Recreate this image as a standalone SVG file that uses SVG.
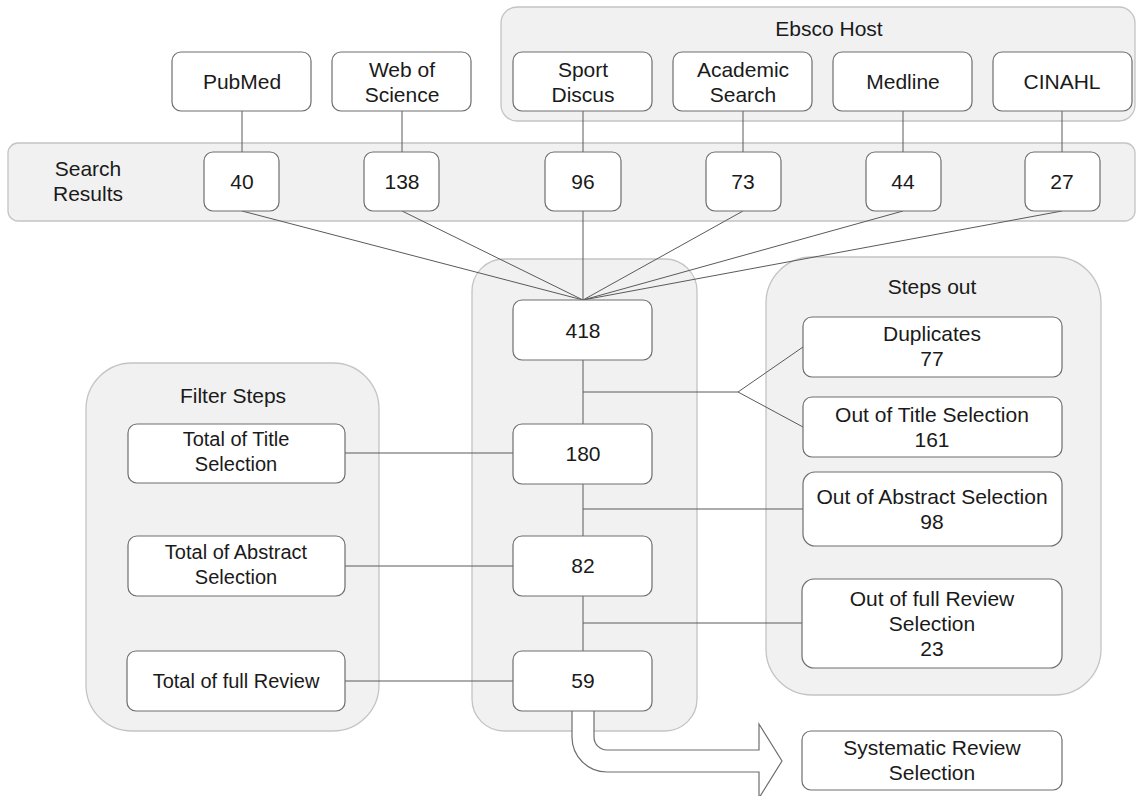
<svg xmlns="http://www.w3.org/2000/svg" width="1137" height="796" viewBox="0 0 1137 796">
<style>
.cont{fill:#f1f1f1;stroke:#c4c4c4;stroke-width:1.3}
.box{fill:#ffffff;stroke:#6e6e6e;stroke-width:1.2}
.ln{fill:none;stroke:#5a5a5a;stroke-width:1}
text{font-family:"Liberation Sans",Arial,sans-serif;font-size:21px;fill:#1a1a1a;text-anchor:middle}
.s20{font-size:20px}
</style>
<rect x="0" y="0" width="1137" height="796" fill="#ffffff"/>
<g id="ebsco-host">
<rect class="cont" x="501" y="7" width="634" height="114" rx="16"/>
<text x="829" y="36">Ebsco Host</text>
</g>
<g id="search-results">
<rect class="cont" x="8" y="143" width="1127" height="78" rx="10"/>
<text x="88" y="176">Search</text>
<text x="88" y="201">Results</text>
</g>
<g id="central">
<rect class="cont" x="472" y="259" width="225" height="472" rx="32"/>
</g>
<g id="filter-steps">
<rect class="cont" x="86" y="363" width="293" height="368" rx="46"/>
<text x="233" y="403">Filter Steps</text>
</g>
<g id="steps-out">
<rect class="cont" x="766" y="257" width="335" height="438" rx="46"/>
<text x="932" y="294">Steps out</text>
</g>
<g id="connectors">
<line class="ln" x1="242" y1="111" x2="242" y2="152"/>
<line class="ln" x1="402" y1="111" x2="402" y2="152"/>
<line class="ln" x1="583" y1="111" x2="583" y2="152"/>
<line class="ln" x1="743" y1="111" x2="743" y2="152"/>
<line class="ln" x1="903" y1="111" x2="903" y2="152"/>
<line class="ln" x1="1062" y1="111" x2="1062" y2="152"/>
<line class="ln" x1="242" y1="211" x2="583" y2="300"/>
<line class="ln" x1="402" y1="211" x2="583" y2="300"/>
<line class="ln" x1="583" y1="211" x2="583" y2="300"/>
<line class="ln" x1="743" y1="211" x2="583" y2="300"/>
<line class="ln" x1="903" y1="211" x2="583" y2="300"/>
<line class="ln" x1="1062" y1="211" x2="583" y2="300"/>
<line class="ln" x1="583" y1="360" x2="583" y2="651"/>
<polyline class="ln" points="583,392 738,392 803,347"/>
<line class="ln" x1="738" y1="392" x2="803" y2="427"/>
<line class="ln" x1="583" y1="509" x2="803" y2="509"/>
<line class="ln" x1="583" y1="623" x2="802" y2="623"/>
<line class="ln" x1="345" y1="453" x2="513" y2="453"/>
<line class="ln" x1="345" y1="566" x2="513" y2="566"/>
<line class="ln" x1="345" y1="681" x2="513" y2="681"/>
<path d="M572 711 L572 737 A35 35 0 0 0 607 772 L759 772 L759 798 L782 761 L759 724 L759 750 L607 750 A13 13 0 0 1 594 737 L594 711" fill="#ffffff" stroke="#6e6e6e" stroke-width="1.2"/>
</g>
<g id="pubmed"><rect class="box" x="172" y="52" width="139" height="59" rx="9"/><text x="242" y="89">PubMed</text></g>
<g id="web-of-science"><rect class="box" x="332" y="52" width="139" height="59" rx="9"/><text x="402" y="77">Web of</text><text x="402" y="102">Science</text></g>
<g id="sport-discus"><rect class="box" x="513" y="52" width="139" height="59" rx="9"/><text x="583" y="77">Sport</text><text x="583" y="102">Discus</text></g>
<g id="academic-search"><rect class="box" x="673" y="52" width="139" height="59" rx="9"/><text x="743" y="77">Academic</text><text x="743" y="102">Search</text></g>
<g id="medline"><rect class="box" x="833" y="52" width="139" height="59" rx="9"/><text x="903" y="89">Medline</text></g>
<g id="cinahl"><rect class="box" x="993" y="52" width="139" height="59" rx="9"/><text x="1062" y="89">CINAHL</text></g>
<g id="n40"><rect class="box" x="204" y="152" width="75" height="59" rx="9"/><text x="242" y="189">40</text></g>
<g id="n138"><rect class="box" x="364" y="152" width="75" height="59" rx="9"/><text x="402" y="189">138</text></g>
<g id="n96"><rect class="box" x="545" y="152" width="76" height="59" rx="9"/><text x="583" y="189">96</text></g>
<g id="n73"><rect class="box" x="706" y="152" width="75" height="59" rx="9"/><text x="743" y="189">73</text></g>
<g id="n44"><rect class="box" x="866" y="152" width="75" height="59" rx="9"/><text x="903" y="189">44</text></g>
<g id="n27"><rect class="box" x="1025" y="152" width="75" height="59" rx="9"/><text x="1062" y="189">27</text></g>
<g id="n418"><rect class="box" x="513" y="300" width="139" height="60" rx="9"/><text x="583" y="338">418</text></g>
<g id="n180"><rect class="box" x="513" y="424" width="139" height="60" rx="9"/><text x="583" y="461">180</text></g>
<g id="n82"><rect class="box" x="513" y="536" width="139" height="60" rx="9"/><text x="583" y="573">82</text></g>
<g id="n59"><rect class="box" x="513" y="651" width="139" height="60" rx="9"/><text x="583" y="688">59</text></g>
<g id="title-sel"><rect class="box" x="128" y="424" width="217" height="59" rx="9"/><text class="s20" x="236" y="446">Total of Title</text><text class="s20" x="236" y="471">Selection</text></g>
<g id="abstract-sel"><rect class="box" x="128" y="536" width="217" height="60" rx="9"/><text class="s20" x="236" y="559">Total of Abstract</text><text class="s20" x="236" y="584">Selection</text></g>
<g id="full-review"><rect class="box" x="127" y="651" width="218" height="60" rx="9"/><text class="s20" x="236" y="688">Total of full Review</text></g>
<g id="duplicates"><rect class="box" x="803" y="317" width="259" height="60" rx="9"/><text x="932" y="341">Duplicates</text><text x="932" y="366">77</text></g>
<g id="out-title"><rect class="box" x="803" y="397" width="259" height="60" rx="9"/><text x="932" y="422">Out of Title Selection</text><text x="932" y="447">161</text></g>
<g id="out-abstract"><rect class="box" x="803" y="472" width="259" height="74" rx="12"/><text x="932" y="504">Out of Abstract Selection</text><text x="932" y="529">98</text></g>
<g id="out-review"><rect class="box" x="802" y="579" width="260" height="89" rx="12"/><text x="932" y="606">Out of full Review</text><text x="932" y="631">Selection</text><text x="932" y="656">23</text></g>
<g id="systematic"><rect class="box" x="802" y="731" width="260" height="59" rx="9"/><text x="932" y="755">Systematic Review</text><text x="932" y="780">Selection</text></g>
</svg>
